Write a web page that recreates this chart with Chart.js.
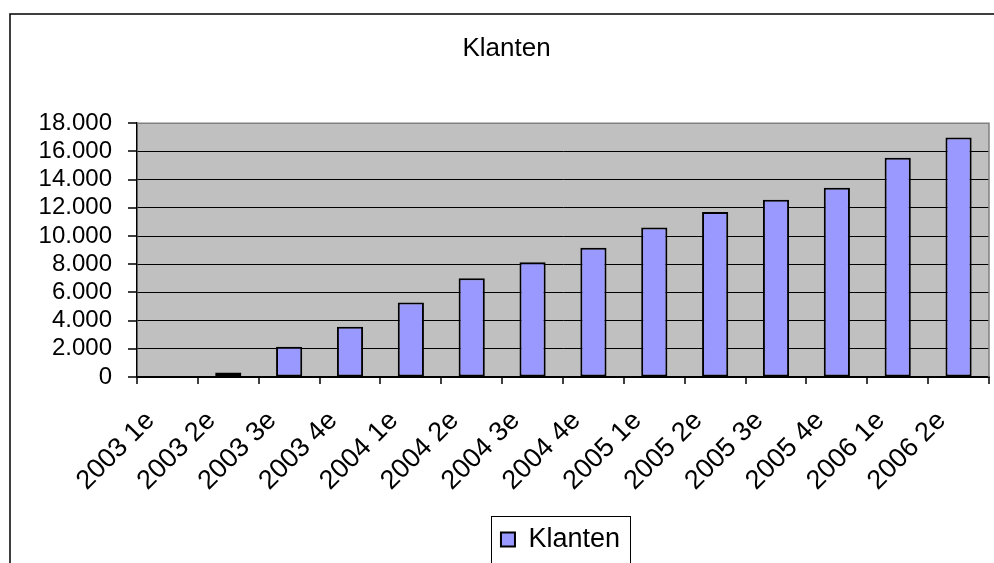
<!DOCTYPE html>
<html>
<head>
<meta charset="utf-8">
<script src="https://cdn.jsdelivr.net/npm/chart.js@4.4.1/dist/chart.umd.min.js"></script>
<style>
  html, body { margin: 0; padding: 0; background: #fff; }
  #wrap { width: 994px; height: 563px; position: relative; }
</style>
</head>
<body>
<div id="wrap"><canvas id="barChart"></canvas></div>
<script>
const barChart = document.getElementById('barChart');

const quarters = [
	'2003 1e', '2003 2e', '2003 3e', '2003 4e',
	'2004 1e', '2004 2e', '2004 3e', '2004 4e',
	'2005 1e', '2005 2e', '2005 3e', '2005 4e',
	'2006 1e', '2006 2e',
];
const klanten = [0, 320, 2140, 3570, 5290, 7000, 8140, 9170, 10600, 11710, 12570, 13430, 15550, 16980];
const yMax = 18000;
const yStep = 2000;

const fmt = (v) => String(v).replace(/\B(?=(\d{3})+(?!\d))/g, '.');

// grey plot area, outer frame, tick marks, plot border and legend box
const excelLook = {
	id: 'excelLook',
	afterLayout(chart) {
		const a = chart.chartArea;
		// legend sits under the plot area, title a bit right of canvas centre
		const shift = (a.left + a.right) / 2 - chart.width / 2;
		chart.legend.left += shift;
		chart.legend.right += shift;
		chart.titleBlock.left += 12;
		chart.titleBlock.right += 12;
	},
	beforeDraw(chart) {
		const { ctx, chartArea: a } = chart;
		ctx.save();
		ctx.fillStyle = '#fff';
		ctx.fillRect(0, 0, chart.width, chart.height);
		ctx.fillStyle = '#C0C0C0';
		ctx.fillRect(a.left, a.top, a.right - a.left, a.bottom - a.top);
		ctx.strokeStyle = '#000';
		ctx.lineWidth = 1.5;
		ctx.beginPath();
		ctx.moveTo(10, chart.height);
		ctx.lineTo(10, 14);
		ctx.lineTo(chart.width, 14);
		ctx.stroke();
		ctx.restore();
	},
	afterDraw(chart) {
		const { ctx, chartArea: a } = chart;
		const xs = chart.scales.x;
		const ys = chart.scales.y;
		ctx.save();
		ctx.strokeStyle = '#808080';
		ctx.lineWidth = 1.5;
		ctx.beginPath();
		ctx.moveTo(a.left, a.top);
		ctx.lineTo(a.right, a.top);
		ctx.lineTo(a.right, a.bottom);
		ctx.stroke();

		// tick marks outside the plot area
		ctx.strokeStyle = '#000';
		ctx.lineWidth = 1.5;
		ctx.beginPath();
		ys.ticks.forEach((t) => {
			const y = Math.round(ys.getPixelForValue(t.value));
			ctx.moveTo(a.left - 9, y);
			ctx.lineTo(a.left, y);
		});
		for (let i = 0; i <= quarters.length; i++) {
			const x = Math.round(xs.getPixelForValue(i - 0.5));
			ctx.moveTo(x, a.bottom);
			ctx.lineTo(x, a.bottom + 7);
		}
		ctx.stroke();

		const hb = chart.legend.legendHitBoxes[0];
		if (hb) {
			const cy = hb.top + hb.height / 2;
			ctx.lineWidth = 1;
			ctx.strokeRect(Math.round(hb.left - 10) + 0.5, Math.round(cy - 24) + 0.5, Math.round(hb.width + 20), 60);
		}
		ctx.restore();
	},
};

const newBarChart = new Chart(barChart, {
	type: 'bar',
	data: {
		labels: quarters,
		datasets: [
			{
				label: 'Klanten',
				data: klanten,
				backgroundColor: '#9999FF',
				borderColor: '#000000',
				borderWidth: 2,
				borderSkipped: false,
				barPercentage: 0.43,
				categoryPercentage: 1,
			},
		],
	},
	options: {
		responsive: true,
		maintainAspectRatio: false,
		animation: false,
		layout: { padding: { left: 0, right: 5, top: 0, bottom: 0 } },
		plugins: {
			title: {
				display: true,
				text: 'Klanten',
				color: '#000',
				font: { family: 'Liberation Sans', size: 26, weight: 'normal' },
				padding: { top: 33, bottom: 59 },
			},
			legend: {
				position: 'bottom',
				labels: {
					color: '#000',
					font: { family: 'Liberation Sans', size: 27 },
					boxWidth: 14,
					boxHeight: 14,
					padding: 10,
					useBorderRadius: false,
				},
			},
			tooltip: { enabled: false },
		},
		scales: {
			x: {
				offset: true,
				grid: {
					offset: true,
					drawOnChartArea: false,
					drawTicks: false,
				},
				border: { color: '#000', width: 1.5 },
				ticks: {
					color: '#000',
					font: { family: 'Liberation Sans', size: 27 },
					maxRotation: 45,
					minRotation: 45,
					autoSkip: false,
					padding: 28,
					labelOffset: -17,
				},
				afterFit(scale) {
					scale.height = 139;
					scale.paddingLeft = 0;
					scale.paddingRight = 0;
				},
			},
			y: {
				min: 0,
				max: yMax,
				grid: {
					color: (c) => (c.tick && c.tick.value === yMax ? '#808080' : '#000'),
					drawTicks: false,
					lineWidth: 1,
				},
				border: { color: '#000', width: 1.5 },
				ticks: {
					stepSize: yStep,
					autoSkip: false,
					color: '#000',
					font: { family: 'Liberation Sans', size: 24 },
					padding: 25,
					callback: (v) => fmt(v),
				},
				afterFit(scale) { scale.width = 137; },
			},
		},
	},
	plugins: [excelLook],
});
</script>
</body>
</html>
